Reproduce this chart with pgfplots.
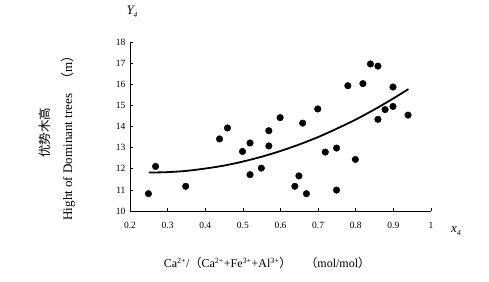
\documentclass[border=0pt]{standalone}
\usepackage{fontspec}
\setmainfont{Liberation Serif}
\newfontfamily\cjk{Noto Sans CJK SC}
\usepackage{pgfplots}
\pgfplotsset{compat=1.18}
\begin{document}
\begin{tikzpicture}[x=1pt,y=1pt]
\useasboundingbox (0,0) rectangle (489,281);
\begin{axis}[at={(130pt,70pt)}, anchor=south west, scale only axis,
  width=301pt, height=169pt,
  xmin=0.2, xmax=1, ymin=10, ymax=18,
  axis x line*=bottom, axis y line*=left,
  axis line style={line width=0.8pt},
  tick align=inside, major tick length=3pt,
  tick style={line width=0.6pt, black},
  xtick={0.2,0.3,0.4,0.5,0.6,0.7,0.8,0.9,1},
  xticklabels={0.2,0.3,0.4,0.5,0.6,0.7,0.8,0.9,1},
  ytick={10,11,12,13,14,15,16,17,18},
  yticklabels={10,11,12,13,14,15,16,17,18},
  ticklabel style={font=\fontsize{9.5}{10}\selectfont},
  xticklabel style={yshift=-8pt},
  yticklabel style={xshift=-1pt},
  clip=false]
\addplot[only marks, mark=*, mark size=3.3pt, black] coordinates {
(0.249,10.82) (0.268,12.11) (0.348,11.17) (0.438,13.41) (0.459,13.93)
(0.499,12.82) (0.519,13.22) (0.519,11.72) (0.549,12.03) (0.569,13.80)
(0.569,13.08) (0.599,14.42) (0.638,11.17) (0.649,11.66) (0.659,14.16)
(0.669,10.82) (0.699,14.83) (0.719,12.79) (0.749,12.98) (0.749,10.99)
(0.779,15.93) (0.799,12.44) (0.819,16.03) (0.839,16.96) (0.859,16.86)
(0.859,14.34) (0.878,14.80) (0.899,14.95) (0.899,15.87) (0.939,14.54)
};
\addplot[black, line width=1.8pt, smooth] coordinates {
(0.25,11.82) (0.30,11.84) (0.35,11.90) (0.40,12.01) (0.45,12.15)
(0.50,12.34) (0.55,12.57) (0.60,12.84) (0.65,13.15) (0.70,13.50)
(0.75,13.90) (0.80,14.33) (0.85,14.81) (0.90,15.33) (0.94,15.77)
};
\end{axis}
\node[rotate=90, font=\fontsize{12.5}{13}\selectfont] at (45pt,148pt) {\cjk 优势木高};
\node[rotate=90, font=\fontsize{13}{14}\selectfont] at (68pt,146pt) {Hight of Dominant trees\hspace{8pt}{\cjk （}m{\cjk ）}};
\node[font=\fontsize{13}{13}\selectfont] at (132pt,269pt) {\itshape Y\raisebox{-3pt}{\fontsize{7.5}{7.5}\selectfont 4}};
\node[font=\fontsize{13}{13}\selectfont] at (456pt,50pt) {\itshape x\raisebox{-3pt}{\fontsize{7.5}{7.5}\selectfont 4}};
\node[font=\fontsize{12}{13}\selectfont] at (267pt,18pt) {Ca\textsuperscript{2+}/{\cjk （}Ca\textsuperscript{2+}+Fe\textsuperscript{3+}+Al\textsuperscript{3+}{\cjk ）}\hspace{14pt}{\cjk （}mol/mol{\cjk ）}};
\end{tikzpicture}
\end{document}
